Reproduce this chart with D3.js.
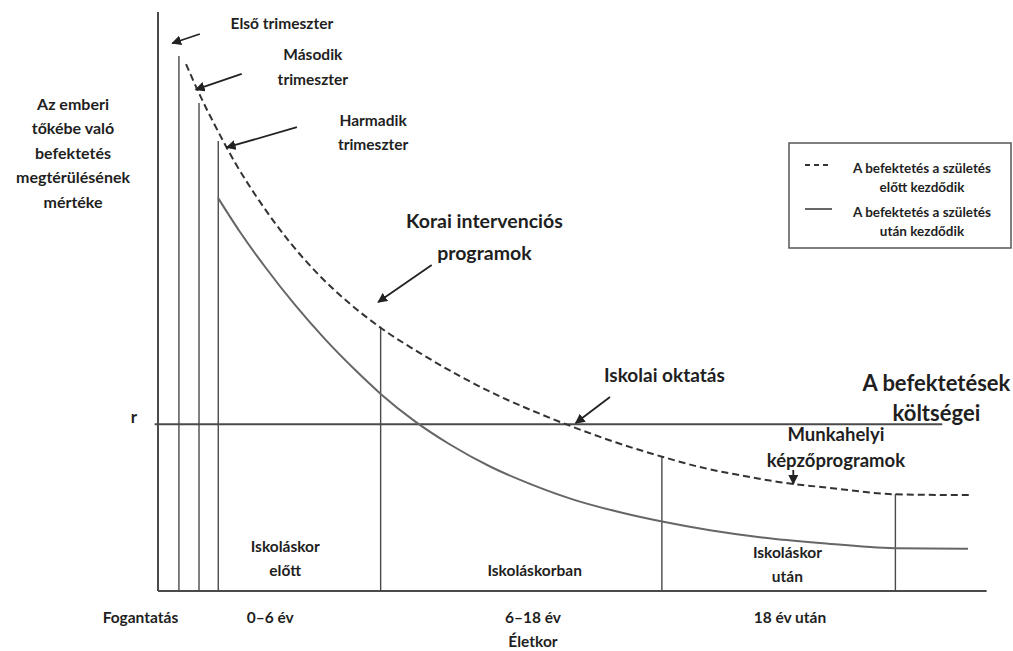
<!DOCTYPE html>
<html>
<head>
<meta charset="utf-8">
<script src="https://cdn.jsdelivr.net/npm/d3@7"></script>
<style>
  body { margin: 0; background: #fff; }
  svg text { font-family: Lato, "Open Sans", sans-serif; font-weight: bold; fill: #1f1f1f; }
</style>
</head>
<body>
<svg class="chart"></svg>
<script>
// életkor (x, 0–100 relatív) és megtérülés (y, 0–100 relatív)
const prenatalX = [3.35, 5.02, 6.81, 9.20, 12.19, 15.77, 19.35, 22.94, 26.76, 31.30, 36.08, 40.86, 45.64, 49.46, 54.84, 60.22, 64.76, 69.53, 74.31, 80.29, 88.05, 92.83, 97.25];
const prenatalY = [91.0, 85.6, 80.4, 74.0, 67.2, 60.2, 54.4, 49.6, 45.3, 41.1, 37.1, 33.6, 30.6, 28.4, 25.6, 23.2, 21.4, 20.0, 18.8, 17.8, 16.7, 16.6, 16.6];

const postnatalX = [7.17, 9.80, 12.78, 16.37, 19.95, 23.54, 26.64, 30.70, 34.89, 39.67, 44.44, 49.82, 55.20, 60.22, 65.95, 71.92, 79.09, 88.05, 96.77];
const postnatalY = [67.9, 62.0, 56.0, 49.4, 43.5, 38.2, 34.0, 29.3, 25.3, 21.5, 18.5, 15.7, 13.6, 12.0, 10.5, 9.3, 8.3, 7.4, 7.3];

// függőleges határvonalak: trimeszterek és életszakaszok
const markerX = [2.5, 4.9, 7.2, 26.6, 60.2, 88.1];
const markerTop = [92.4, 84.3, 77.7, 45.6, 23.1, 16.8];

const costLevel = 28.8;
const costStart = -0.4;
const costEnd = 93.7;

const stageLabels = ["Fogantatás", "0–6 év", "6–18 év", "18 év után"];
const stageLabelX = [-2.1, 13.4, 44.8, 75.5];
const periodLabels = [["Iskoláskor", "előtt"], ["Iskoláskorban"], ["Iskoláskor", "után"]];
const periodLabelX = [15.2, 45.0, 75.2];

const yTitle = ["Az emberi", "tőkébe való", "befektetés", "megtérülésének", "mértéke"];
const legendLabels = [["A befektetés a születés", "előtt kezdődik"], ["A befektetés a születés", "után kezdődik"]];

const W = 1013, H = 651;
const margin = {top: 12, right: 18, bottom: 60, left: 158};

const svg = d3.select(".chart")
    .attr("width", W)
    .attr("height", H);

const x = d3.scaleLinear().domain([0, 100]).range([margin.left, W - margin.right]);
const y = d3.scaleLinear().domain([0, 100]).range([H - margin.bottom, margin.top]);

const ink = "#4a4a4a";

svg.append("defs").append("marker")
    .attr("id", "head")
    .attr("viewBox", "0 0 10 10")
    .attr("refX", 9)
    .attr("refY", 5)
    .attr("markerWidth", 5.5)
    .attr("markerHeight", 5.5)
    .attr("orient", "auto")
    .append("path")
    .attr("d", "M0,0 L10,5 L0,10 z")
    .attr("fill", "#222");

// tengelyek
svg.append("line")
    .attr("x1", x(0)).attr("x2", x(0))
    .attr("y1", y(100)).attr("y2", y(0))
    .attr("stroke", ink).attr("stroke-width", 2);

svg.append("line")
    .attr("x1", x(0)).attr("x2", x(99))
    .attr("y1", y(0)).attr("y2", y(0))
    .attr("stroke", ink).attr("stroke-width", 2.2);

// határvonalak
svg.selectAll(".marker")
    .data(markerX)
    .enter()
    .append("line")
    .attr("class", "marker")
    .attr("x1", (d) => x(d)).attr("x2", (d) => x(d))
    .attr("y1", (d, i) => y(markerTop[i])).attr("y2", y(0))
    .attr("stroke", ink).attr("stroke-width", 1.4);

// költségszint (r)
svg.append("line")
    .attr("x1", x(costStart)).attr("x2", x(costEnd))
    .attr("y1", y(costLevel)).attr("y2", y(costLevel))
    .attr("stroke", ink).attr("stroke-width", 1.8);

svg.append("text")
    .attr("x", x(costStart) - 24)
    .attr("y", y(costLevel) - 1)
    .style("font-size", "17px")
    .text("r");

const line = d3.line()
    .x((d) => x(d[0]))
    .y((d) => y(d[1]))
    .curve(d3.curveMonotoneX);

svg.append("path")
    .attr("d", line(prenatalX.map((v, i) => [v, prenatalY[i]])))
    .attr("fill", "none")
    .attr("stroke", "#333")
    .attr("stroke-width", 2)
    .attr("stroke-dasharray", "7,4");

svg.append("path")
    .attr("d", line(postnatalX.map((v, i) => [v, postnatalY[i]])))
    .attr("fill", "none")
    .attr("stroke", "#666")
    .attr("stroke-width", 2);

// feliratok és nyilak
const notes = [
    {lines: ["Első trimeszter"], x: 14.8, y: 98.0, size: 15.5, arrow: [5.0, 96.2, 1.7, 94.6]},
    {lines: ["Második", "trimeszter"], x: 18.5, y: 92.6, size: 15.5, lh: 25, arrow: [10.0, 89.3, 4.5, 86.6]},
    {lines: ["Harmadik", "trimeszter"], x: 25.7, y: 81.3, size: 15.5, lh: 24, arrow: [16.6, 80.1, 8.2, 76.6]},
    {lines: ["Korai intervenciós", "programok"], x: 39.0, y: 63.9, size: 19.5, lh: 32, arrow: [32.7, 56.3, 26.3, 49.9]},
    {lines: ["Iskolai oktatás"], x: 60.5, y: 37.3, size: 19, arrow: [54.0, 33.5, 49.9, 29.0]},
    {lines: ["A befektetések", "költségei"], x: 93.0, y: 35.9, size: 22, lh: 30, arrow: null},
    {lines: ["Munkahelyi", "képzőprogramok"], x: 81.0, y: 27.0, size: 18.5, lh: 26, arrow: [75.9, 20.9, 75.9, 18.5]},
];

notes.forEach((n) =>
{
    const g = svg.append("text")
        .attr("text-anchor", "middle")
        .style("font-size", `${n.size}px`);
    n.lines.forEach((t, i) =>
    {
        g.append("tspan")
            .attr("x", x(n.x))
            .attr("y", y(n.y) + i * (n.lh || n.size + 12))
            .attr("dy", "0.35em")
            .text(t);
    });
    if (n.arrow)
    {
        svg.append("line")
            .attr("x1", x(n.arrow[0])).attr("y1", y(n.arrow[1]))
            .attr("x2", x(n.arrow[2])).attr("y2", y(n.arrow[3]))
            .attr("stroke", "#222")
            .attr("stroke-width", 1.8)
            .attr("marker-end", "url(#head)");
    }
});

// y tengely címe
const yt = svg.append("text")
    .attr("text-anchor", "middle")
    .style("font-size", "16px");
yTitle.forEach((t, i) =>
{
    yt.append("tspan")
        .attr("x", 73)
        .attr("y", 104 + i * 24.5)
        .attr("dy", "0.35em")
        .text(t);
});

// életszakaszok a tengely alatt
svg.selectAll(".stage")
    .data(stageLabels)
    .enter()
    .append("text")
    .attr("class", "stage")
    .attr("x", (d, i) => x(stageLabelX[i]))
    .attr("y", y(0) + 27)
    .attr("dy", "0.35em")
    .attr("text-anchor", "middle")
    .style("font-size", "15.5px")
    .text((d) => d);

svg.append("text")
    .attr("x", x(44.8))
    .attr("y", y(0) + 51)
    .attr("dy", "0.35em")
    .attr("text-anchor", "middle")
    .style("font-size", "15.5px")
    .text("Életkor");

periodLabels.forEach((lines, k) =>
{
    const base = lines.length === 2 ? (k === 2 ? 38 : 44) : 20;
    const t = svg.append("text")
        .attr("text-anchor", "middle")
        .style("font-size", "15.5px");
    lines.forEach((s, i) =>
    {
        t.append("tspan")
            .attr("x", x(periodLabelX[k]))
            .attr("y", y(0) - base + i * 24)
            .attr("dy", "0.35em")
            .text(s);
    });
});

// jelmagyarázat
const legend = svg.append("g").attr("transform", "translate(789,143)");

legend.append("rect")
    .attr("width", 222)
    .attr("height", 105)
    .attr("fill", "#fff")
    .attr("stroke", "#555")
    .attr("stroke-width", 1.5);

legendLabels.forEach((lines, i) =>
{
    const row = legend.append("g").attr("transform", `translate(0,${22 + i * 44})`);

    row.append("line")
        .attr("x1", 16).attr("x2", 43)
        .attr("y1", 0).attr("y2", 0)
        .attr("stroke", i === 0 ? "#333" : "#666")
        .attr("stroke-width", 2)
        .attr("stroke-dasharray", i === 0 ? "5,4" : null);

    const t = row.append("text")
        .attr("text-anchor", "middle")
        .style("font-size", "13.5px");
    lines.forEach((s, j) =>
    {
        t.append("tspan")
            .attr("x", 133)
            .attr("y", 3 + j * 19)
            .attr("dy", "0.35em")
            .text(s);
    });
});
</script>
</body>
</html>
